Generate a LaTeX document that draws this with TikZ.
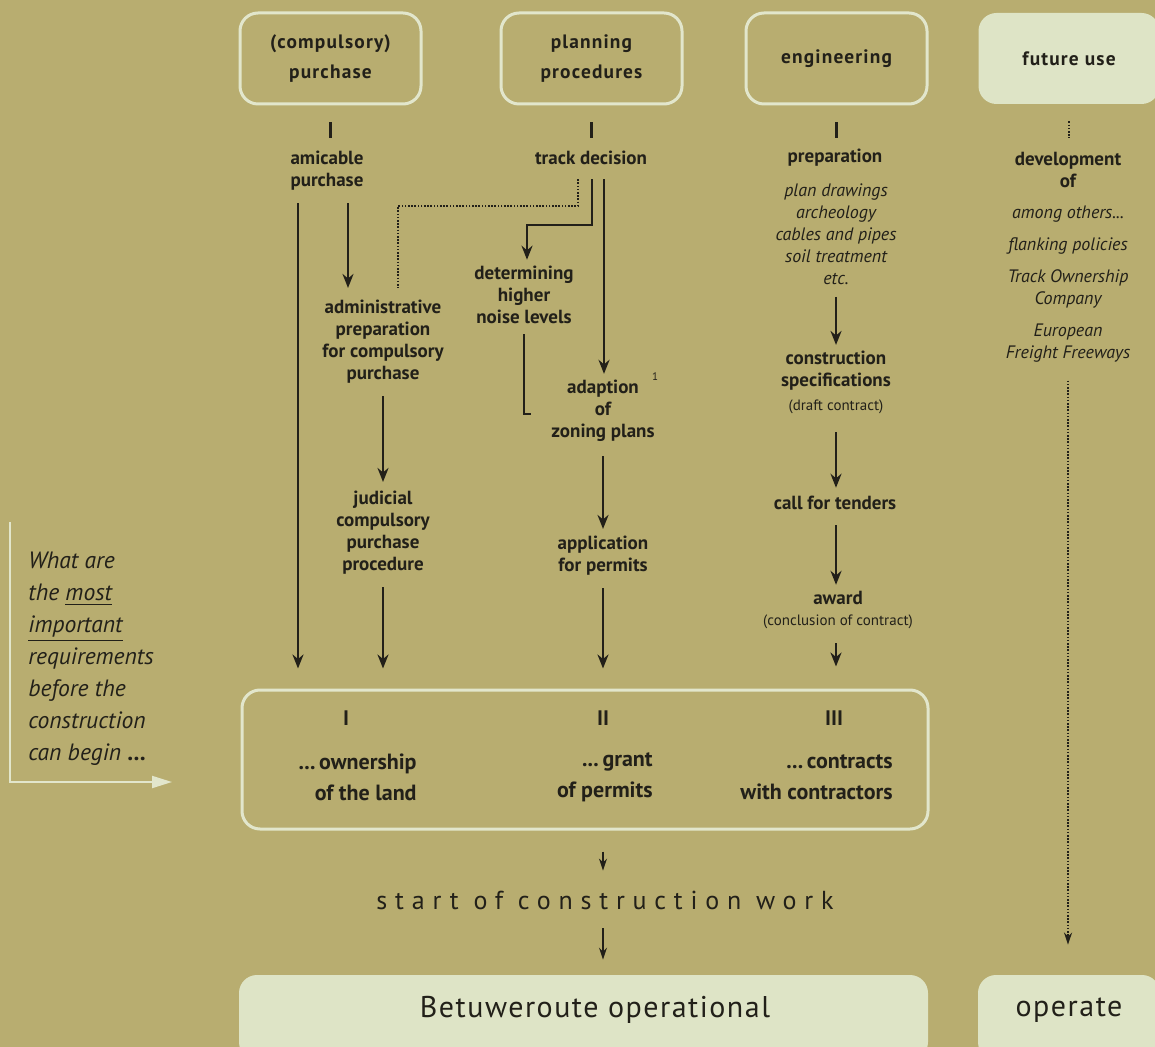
\documentclass[tikz,border=0pt]{standalone}
\usepackage{fontspec}
\setmainfont{PT Sans}
\newfontfamily\headfont[LetterSpace=6]{PT Sans}
\newfontfamily\widefont[LetterSpace=30]{PT Sans}
\newfontfamily\endfont[LetterSpace=5]{PT Sans}
\usetikzlibrary{positioning,arrows.meta}
\definecolor{Khaki}{RGB}{184,173,112}
\definecolor{PaleGreen}{RGB}{222,228,198}
\definecolor{InkDark}{RGB}{34,32,25}
\definecolor{LineLight}{RGB}{226,230,204}

\begin{document}
\begin{tikzpicture}[x=0.5pt,y=-0.5pt,
  every node/.style={text=InkDark},
  headbox/.style={draw=LineLight, line width=1.5pt, rounded corners=9pt,
    minimum width=90.5pt, minimum height=45.5pt, align=center,
    font=\headfont\bfseries\fontsize{9.7}{15}\selectfont},
  palebox/.style={fill=PaleGreen, rounded corners=9pt, minimum height=42.5pt},
  stage/.style={align=center, inner sep=0pt,
    font=\bfseries\fontsize{9.5}{11}\selectfont},
  items/.style={align=center, inner sep=0pt,
    font=\itshape\fontsize{9}{11}\selectfont},
  note/.style={inner sep=0pt, font=\fontsize{7.5}{9}\selectfont},
  need/.style={align=right, inner sep=0pt, anchor=east,
    font=\bfseries\fontsize{11}{15.5}\selectfont},
  numeral/.style={inner sep=0pt, font=\bfseries\fontsize{10.5}{12}\selectfont},
  arr/.style={draw=InkDark, line width=1.2pt, -{Stealth[length=7pt,width=5.5pt]},
    shorten <=6pt, shorten >=6pt},
  tobox/.style={shorten >=10pt},
  thinarr/.style={draw=InkDark, line width=0.8pt, -{Stealth[length=6pt,width=4pt]},
    shorten <=10pt, shorten >=7pt},
  bar/.style={draw=InkDark, line width=1.2pt},
  dots/.style={draw=InkDark, line width=1pt, dash pattern=on 0.8pt off 0.8pt},
  lightarr/.style={draw=LineLight, line width=1pt, -{Triangle[length=10pt,width=6pt]}}
  ]

% background and page size
\path[use as bounding box, fill=Khaki] (0,0) rectangle (1155,1047);

% column positions
\coordinate (xA) at (298,0);
\coordinate (xB) at (348,0);
\coordinate (xJud) at (383,0);
\coordinate (xDot) at (578,0);
\coordinate (xTrk) at (592,0);
\coordinate (xAdp) at (604,0);
\coordinate (xMid) at (603,0);
\coordinate (xEng) at (836,0);
\coordinate (xFut) at (1068,0);
\coordinate (dotturn) at (398,206);
\coordinate (elbow) at (527,225);

% top row
\node[headbox] (purch) at (330.5,58.5) {(compulsory)\\purchase};
\node[headbox] (plan) at (591.5,58.5) {planning\\procedures};
\node[headbox] (engin) at (836.5,58.5) {engineering};
\node[headbox, draw=none, fill=PaleGreen] (future) at (1069,58.5) {future use};

% purchase column
\node[stage] (amic) at (327,171) {amicable\\purchase};
\node[stage] (admin) at (383,342) {administrative\\preparation\\for compulsory\\purchase};
\node[stage] (judic) at (383,533) {judicial\\compulsory\\purchase\\procedure};

% planning column
\node[stage] (track) at (591,158) {track decision};
\node[stage] (noise) at (524,295) {determining\\higher\\noise levels};
\node[stage] (adapt) at (603,411) {adaption\\of\\zoning plans};
\node[inner sep=0pt, font=\fontsize{5.5}{6}\selectfont] (footmark) at (655,377) {1};
\node[stage] (applic) at (603,556) {application\\for permits};

% engineering column
\node[stage] (prep) at (835,158) {preparation};
\node[items] (prepitems) at (836,234) {plan drawings\\archeology\\cables and pipes\\soil treatment\\etc.};
\node[stage] (spec) at (836,371) {construction\\specifications};
\node[note] (specnote) at (836,407) {(draft contract)};
\node[stage] (tenders) at (835,503) {call for tenders};
\node[stage] (award) at (838,598) {award};
\node[note] (awardnote) at (838,622) {(conclusion of contract)};

% future use column
\node[stage] (devel) at (1068,170) {development\\of};
\node[items] (devitems) at (1068,284) {among others...\\[5pt]flanking policies\\[5pt]Track Ownership\\Company\\[5pt]European\\Freight Freeways};

% requirements
\node[draw=LineLight, line width=1.5pt, rounded corners=9pt,
  minimum width=343pt, minimum height=69.5pt] (reqbox) at (585,759.5) {};
\node[numeral] (rI) at (346,718) {I};
\node[numeral] (rII) at (603,718) {II};
\node[numeral] (rIII) at (834,718) {III};
\node[need] (own) at (417,777) {...\,ownership\\of the land};
\node[need] (grant) at (653,777) {...\,grant\\of permits};
\node[need] (contr) at (893,777) {...\,contracts\\with contractors};

\node[align=left, anchor=north west, inner sep=0pt,
  font=\itshape\fontsize{11.8}{16}\selectfont] (question) at (28,552)
  {What are\\the \underline{most}\\\underline{important}\\requirements\\before the\\construction\\can begin \textbf{...}};
\coordinate (qtop) at (10,522);
\coordinate (qtip) at (172,782);

% bottom
\node[font=\widefont\fontsize{13}{15}\selectfont] (start) at (605,900) {start of construction work};
\node[palebox, minimum width=344.5pt] (betuwe) at (583.5,1017.5) {};
\node[palebox, minimum width=91pt] (operate) at (1069,1017.5) {};
\node[font=\endfont\fontsize{15}{17}\selectfont] (betuwetext) at (595,1010) {Betuweroute operational};
\node[font=\endfont\fontsize{15}{17}\selectfont] (operatetext) at (1069,1010) {operate};

% ticks under the top boxes
\draw[bar] ([yshift=-8.5pt]purch.south) -- ++(0,16);
\draw[bar] ([yshift=-8.5pt]plan.south) -- ++(0,16);
\draw[bar] ([yshift=-8.5pt]engin.south) -- ++(0,16);
\draw[dots] ([yshift=-8pt]future.south) -- ++(0,17);

% purchase arrows
\draw[arr, tobox] (amic.south -| xA) -- (reqbox.north -| xA);
\draw[arr] (amic.south -| xB) -- (admin.north -| xB);
\draw[arr, shorten >=4.5pt] (admin) -- (judic);
\draw[arr, tobox] (judic.south) -- (reqbox.north -| xJud);

% planning arrows
\draw[dots, shorten <=7pt] (track.south -| xDot) |- (dotturn) -- ([yshift=6pt]dotturn |- admin.north);
\draw[arr, shorten <=7pt, shorten >=3pt] (track.south -| xTrk) |- (elbow) -- (elbow |- noise.north);
\draw[arr, shorten <=7pt, shorten >=3pt] (track.south -| xAdp) -- (adapt.north -| xAdp);
\draw[bar] ([yshift=-5pt]noise.south) |- ++(7,80);
\draw[arr, shorten <=7pt, shorten >=3.5pt] (adapt) -- (applic);
\draw[arr, tobox] (applic.south) -- (reqbox.north -| xMid);

% engineering arrows
\draw[arr, shorten >=3pt] (prepitems.south -| xEng) -- (spec.north -| xEng);
\draw[arr, shorten <=9pt, shorten >=4pt] (specnote.south -| xEng) -- (tenders.north -| xEng);
\draw[arr, shorten <=7.5pt, shorten >=3pt] (tenders.south -| xEng) -- (award.north -| xEng);
\draw[arr, shorten <=7pt, shorten >=11pt] (awardnote.south -| xEng) -- (reqbox.north -| xEng);

% future use arrow
\draw[dots, -{Stealth[length=6pt,width=4pt]}, shorten <=9pt, shorten >=15pt]
  (devitems.south -| xFut) -- (operate.north -| xFut);

% towards the start
\draw[thinarr, shorten <=10.5pt, shorten >=6.5pt] (reqbox.south -| xMid) -- (start.north -| xMid);
\draw[thinarr, shorten <=6pt, shorten >=7.5pt] (start.south -| xMid) -- (betuwe.north -| xMid);

% question pointer
\draw[lightarr] (qtop) |- (qtip);

\end{tikzpicture}
\end{document}
